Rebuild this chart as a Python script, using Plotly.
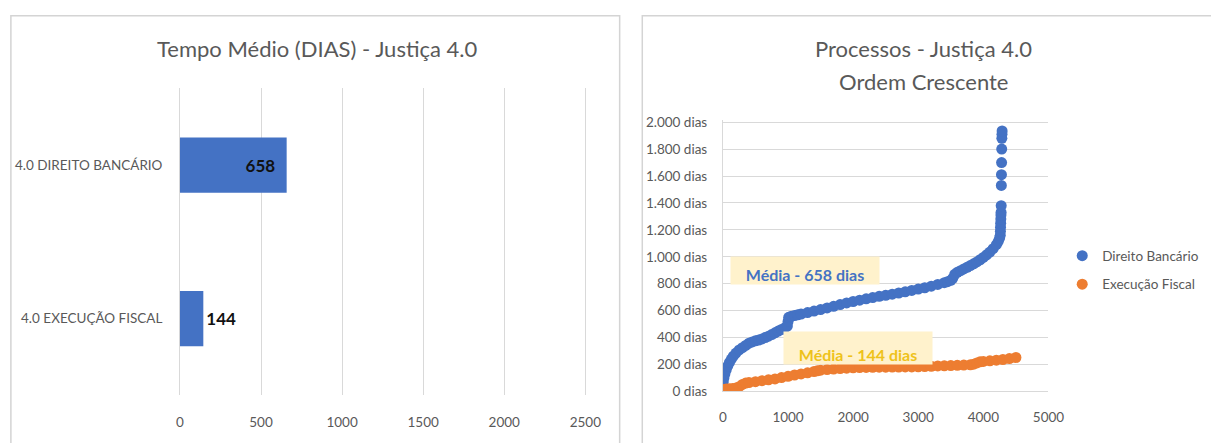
import plotly.graph_objects as go

# ---------------- data ----------------
bar_categories = ["4.0 DIREITO BANCÁRIO", "4.0 EXECUÇÃO FISCAL"]
bar_values = [658, 144]
bar_ticks = [0, 500, 1000, 1500, 2000, 2500]

banc_x = [0, 5, 15, 30, 50, 75, 100, 130, 160, 200,
          250, 300, 350, 400, 450, 500, 550, 600, 650, 700,
          750, 800, 850, 900, 950, 990, 1000, 1010, 1050, 1100,
          1150, 1200, 1300, 1400, 1500, 1600, 1700, 1800, 1900, 2000,
          2100, 2200, 2300, 2400, 2500, 2600, 2700, 2800, 2900, 3000,
          3100, 3200, 3300, 3400, 3450, 3500, 3530, 3560, 3600, 3650,
          3700, 3750, 3800, 3850, 3900, 3950, 4000, 4050, 4100, 4150,
          4200, 4230, 4250, 4260, 4262, 4264, 4266, 4268, 4270, 4272,
          4274, 4276, 4278, 4280, 4282, 4284, 4286, 4288]
banc_y = [40, 70, 100, 130, 160, 190, 215, 240, 262, 285,
          308, 325, 342, 358, 368, 376, 382, 390, 400, 410,
          422, 435, 448, 460, 472, 485, 520, 550, 558, 563,
          569, 575, 586, 597, 608, 620, 632, 645, 657, 668,
          678, 688, 697, 706, 714, 722, 731, 740, 750, 760,
          770, 782, 795, 808, 815, 825, 840, 870, 885, 897,
          910, 922, 935, 948, 962, 978, 995, 1015, 1035, 1060,
          1090, 1115, 1140, 1160, 1190, 1220, 1250, 1280, 1310, 1330,
          1380, 1530, 1610, 1700, 1800, 1880, 1910, 1935]

fisc_x = [0, 50, 100, 150, 200, 250, 300, 350, 400, 500,
          600, 700, 800, 900, 1000, 1100, 1200, 1300, 1400, 1450,
          1500, 1600, 1700, 1800, 1900, 2000, 2100, 2200, 2300, 2400,
          2500, 2600, 2700, 2800, 2900, 3000, 3100, 3200, 3300, 3400,
          3500, 3600, 3700, 3800, 3850, 3900, 3950, 4000, 4100, 4200,
          4300, 4400, 4500]
fisc_y = [15, 18, 20, 22, 25, 35, 52, 62, 66, 72,
          80, 86, 93, 103, 112, 122, 130, 138, 148, 153,
          158, 162, 166, 170, 173, 175, 177, 178, 179, 180,
          180, 181, 181, 182, 182, 183, 185, 187, 189, 190,
          192, 194, 196, 198, 202, 212, 220, 223, 227, 232,
          237, 244, 252]

y_ticks = [0, 200, 400, 600, 800, 1000, 1200, 1400, 1600, 1800, 2000]
y_ticktext = ["0 dias", "200 dias", "400 dias", "600 dias", "800 dias", "1.000 dias",
              "1.200 dias", "1.400 dias", "1.600 dias", "1.800 dias", "2.000 dias"]
x_ticks = [0, 1000, 2000, 3000, 4000, 5000]

# ---------------- style ----------------
W, H = 1211, 443
FONT = "Lato, 'Open Sans', sans-serif"
GREY = "#595959"
GRID = "#D9D9D9"
BLUE = "#4472C4"
ORANGE = "#ED7D31"


def px(x):
    return x / W


def py(y):
    return (H - y) / H


fig = go.Figure()

fig.add_trace(go.Bar(
    x=bar_values, y=bar_categories, orientation="h",
    marker=dict(color=BLUE, line=dict(width=0)),
    text=bar_values, texttemplate="%{x}\u2002",
    textposition=["inside", "outside"], insidetextanchor="end",
    constraintext="none", textangle=0,
    textfont=dict(family=FONT, size=17, color="#111111", weight="bold"),
    outsidetextfont=dict(family=FONT, size=17, color="#111111", weight="bold"),
    xaxis="x", yaxis="y", showlegend=False, hoverinfo="skip", cliponaxis=False,
))

fig.add_trace(go.Scatter(
    x=banc_x, y=banc_y, mode="markers", name="Direito Bancário",
    marker=dict(color=BLUE, size=11, line=dict(width=0)),
    xaxis="x2", yaxis="y2", legendgroup="a",
))
fig.add_trace(go.Scatter(
    x=fisc_x, y=fisc_y, mode="markers", name="Execução Fiscal",
    marker=dict(color=ORANGE, size=11, line=dict(width=0)),
    xaxis="x2", yaxis="y2", legendgroup="b",
))

tickfont = dict(family=FONT, size=13.5, color=GREY)

fig.update_layout(
    width=W, height=H, margin=dict(l=0, r=0, t=0, b=0),
    paper_bgcolor="white", plot_bgcolor="white",
    font=dict(family=FONT, color=GREY),
    bargap=0.64,
    xaxis=dict(domain=[px(173), px(597)], range=[-36, 2536], tickvals=bar_ticks,
               showgrid=True, gridcolor=GRID, gridwidth=1, zeroline=False,
               showline=False, ticks="outside", ticklen=0, ticklabelstandoff=15,
               tickfont=tickfont, anchor="y", fixedrange=True),
    yaxis=dict(domain=[py(402), py(85)], autorange="reversed", type="category",
               showgrid=False, zeroline=False, showline=False, ticks="outside",
               ticklen=0, ticklabelstandoff=8, tickfont=tickfont, anchor="x"),
    xaxis2=dict(domain=[px(731), px(1062)], range=[0, 5000], tickvals=x_ticks,
                showgrid=False, zeroline=False, showline=True, linecolor=GRID,
                linewidth=1, ticks="outside", ticklen=0, ticklabelstandoff=13,
                tickfont=tickfont, anchor="y2"),
    yaxis2=dict(domain=[py(398), py(118)], range=[0, 2014], tickvals=y_ticks,
                ticktext=y_ticktext, showgrid=True, gridcolor=GRID, gridwidth=1,
                zeroline=False, showline=True, linecolor=GRID, linewidth=1,
                ticks="outside", ticklen=0, ticklabelstandoff=12,
                tickfont=tickfont, anchor="x2"),
    legend=dict(x=px(1076), y=py(242), xanchor="left", yanchor="top",
                font=dict(family=FONT, size=13.5, color=GREY),
                bgcolor="rgba(0,0,0,0)", traceorder="grouped", tracegroupgap=8,
                itemwidth=30),
    showlegend=True,
)

# panel borders
fig.add_shape(type="rect", xref="paper", yref="paper",
              x0=px(7), x1=px(626), y0=-0.2, y1=py(10),
              line=dict(color="#D4D4D4", width=1.5), fillcolor="rgba(0,0,0,0)", layer="below")
fig.add_shape(type="rect", xref="paper", yref="paper",
              x0=px(649), x1=1.2, y0=-0.2, y1=py(10),
              line=dict(color="#D4D4D4", width=1.5), fillcolor="rgba(0,0,0,0)", layer="below")

title_font = dict(family=FONT, size=22, color=GREY)
fig.add_annotation(text="Tempo Médio (DIAS) - Justiça 4.0", xref="paper", yref="paper",
                   x=px(318), y=py(44), xanchor="center", yanchor="middle",
                   showarrow=False, font=title_font)
fig.add_annotation(text="Processos - Justiça 4.0", xref="paper", yref="paper",
                   x=px(935), y=py(44), xanchor="center", yanchor="middle",
                   showarrow=False, font=title_font)
fig.add_annotation(text="Ordem Crescente", xref="paper", yref="paper",
                   x=px(935), y=py(78), xanchor="center", yanchor="middle",
                   showarrow=False, font=title_font)

# average labels
fig.add_annotation(text="<b>Média - 658 dias</b>", xref="paper", yref="paper",
                   x=px(814), y=py(273.5), xanchor="center", yanchor="middle",
                   width=148, height=27, valign="bottom", bgcolor="#FFF2CC",
                   borderpad=0, showarrow=False,
                   font=dict(family=FONT, size=16, color=BLUE))
fig.add_annotation(text="<b>Média - 144 dias</b>", xref="paper", yref="paper",
                   x=px(868), y=py(353.5), xanchor="center", yanchor="middle",
                   width=148, height=32, valign="bottom", bgcolor="#FFF2CC",
                   borderpad=0, showarrow=False,
                   font=dict(family=FONT, size=16, color="#EEC21B"))

fig.write_html("out.html")
